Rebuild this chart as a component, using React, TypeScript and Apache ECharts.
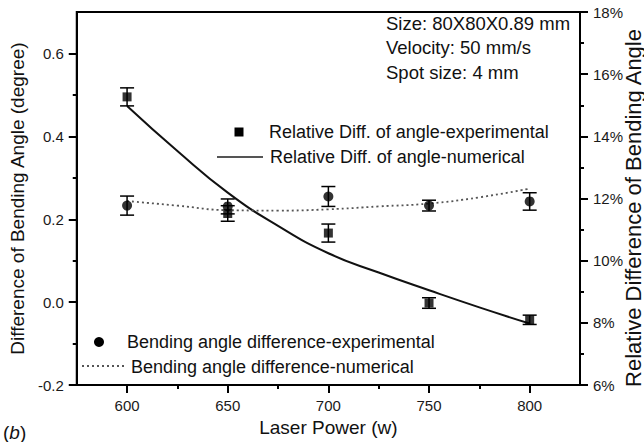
import React, { useEffect, useRef } from 'react';
import * as echarts from 'echarts';

const laserPower = [600, 650, 700, 750, 800];
const angleDiffExp = [0.233, 0.231, 0.255, 0.233, 0.243];
const angleDiffExpErr = [0.023, 0.018, 0.024, 0.013, 0.021];
const relDiffExp = [15.27, 11.52, 10.89, 8.64, 8.1];
const relDiffExpErr = [0.29, 0.25, 0.29, 0.17, 0.15];
const numPower = [600, 625, 650, 675, 700, 725, 750, 775, 800];
const angleDiffNum = [0.244, 0.233, 0.222, 0.221, 0.224, 0.231, 0.238, 0.253, 0.274];
const relDiffNum = [14.98, 13.53, 12.19, 11.12, 10.24, 9.62, 9.05, 8.5, 7.98];
const xMajorTicks = [600, 650, 700, 750, 800];
const xMinorTicks = [625, 675, 725, 775];
const leftMajorTicks = [-0.2, 0, 0.2, 0.4, 0.6];
const leftMinorTicks = [-0.1, 0.1, 0.3, 0.5];
const annotationLines = ['Size: 80X80X0.89 mm', 'Velocity: 50 mm/s', 'Spot size: 4 mm'];
const rightAxisTitle = 'Relative Difference of Bending Angle';

const FONT = '"Liberation Sans", Arial, sans-serif';
const TEXT_SIZE = 19;
const LEGEND_SIZE = 18;

function errorBars(name: string, values: number[], errs: number[], yAxisIndex: number) {
  return {
    type: 'custom',
    name,
    xAxisIndex: 0,
    yAxisIndex,
    data: laserPower.map((x, i) => [x, values[i] - errs[i], values[i] + errs[i]]),
    encode: { x: 0, y: [1, 2] },
    z: 3,
    silent: true,
    renderItem: (params: any, api: any) => {
      const x = api.value(0);
      const lo = api.coord([x, api.value(1)]);
      const hi = api.coord([x, api.value(2)]);
      const hw = 7;
      const style = { stroke: '#000', lineWidth: 1.5, fill: null };
      return {
        type: 'group',
        children: [
          { type: 'line', shape: { x1: lo[0], y1: lo[1], x2: hi[0], y2: hi[1] }, style },
          { type: 'line', shape: { x1: lo[0] - hw, y1: lo[1], x2: lo[0] + hw, y2: lo[1] }, style },
          { type: 'line', shape: { x1: hi[0] - hw, y1: hi[1], x2: hi[0] + hw, y2: hi[1] }, style },
        ],
      };
    },
  };
}

export default function App() {
  const ref = useRef<HTMLDivElement>(null);
  useEffect(() => {
    if (!ref.current) return;
    const chart = echarts.init(ref.current, null, { renderer: 'svg' });
    const axisLine = { show: true, onZero: false, lineStyle: { color: '#000', width: 2 } };
    const labelStyle = { color: '#1a1a1a', fontSize: 15, fontFamily: FONT };
    const nameStyle = { color: '#111', fontSize: TEXT_SIZE, fontFamily: FONT };
    const tickStyle = { color: '#000', width: 2 };
    const option: any = {
      animation: false,
      backgroundColor: '#fff',
      grid: {
        left: 74,
        right: 64,
        top: 12,
        bottom: 52,
        show: true,
        borderColor: '#000',
        borderWidth: 2,
        backgroundColor: 'transparent',
      },
      xAxis: [
        {
          type: 'value',
          position: 'bottom',
          min: 575,
          max: 825,
          interval: 25,
          name: 'Laser Power (w)',
          nameLocation: 'middle',
          nameGap: 30,
          nameTextStyle: nameStyle,
          axisLine,
          axisTick: { show: true, customValues: xMajorTicks, length: 8, lineStyle: tickStyle },
          axisLabel: { customValues: xMajorTicks, margin: 13, ...labelStyle },
          splitLine: { show: false },
        },
        {
          type: 'value',
          position: 'bottom',
          min: 575,
          max: 825,
          interval: 25,
          axisLine: { show: false, onZero: false },
          axisTick: { show: true, customValues: xMinorTicks, length: 4, lineStyle: tickStyle },
          axisLabel: { show: false },
          splitLine: { show: false },
        },
      ],
      yAxis: [
        {
          type: 'value',
          position: 'left',
          min: -0.2,
          max: 0.7,
          interval: 0.1,
          name: 'Difference of Bending Angle (degree)',
          nameLocation: 'middle',
          nameGap: 42,
          nameTextStyle: nameStyle,
          axisLine,
          axisTick: { show: true, customValues: leftMajorTicks, length: 8, lineStyle: tickStyle },
          axisLabel: {
            customValues: leftMajorTicks,
            margin: 13,
            formatter: (v: number) => v.toFixed(1),
            ...labelStyle,
          },
          splitLine: { show: false },
        },
        {
          type: 'value',
          position: 'right',
          min: 6,
          max: 18,
          interval: 2,
          axisLine,
          axisTick: { show: true, length: 8, lineStyle: tickStyle },
          minorTick: { show: true, splitNumber: 2, length: 4, lineStyle: tickStyle },
          axisLabel: { margin: 13, formatter: '{value}%', ...labelStyle },
          splitLine: { show: false },
        },
        {
          type: 'value',
          position: 'left',
          min: -0.2,
          max: 0.7,
          interval: 0.1,
          axisLine: { show: false, onZero: false },
          axisTick: { show: true, customValues: leftMinorTicks, length: 4, lineStyle: tickStyle },
          axisLabel: { show: false },
          splitLine: { show: false },
        },
      ],
      series: [
        {
          type: 'line',
          name: 'Relative Diff. of angle-numerical',
          xAxisIndex: 0,
          yAxisIndex: 1,
          data: numPower.map((x, i) => [x, relDiffNum[i]]),
          smooth: true,
          showSymbol: false,
          lineStyle: { color: '#111', width: 2 },
          z: 2,
        },
        {
          type: 'line',
          name: 'Bending angle difference-numerical',
          xAxisIndex: 0,
          yAxisIndex: 0,
          data: numPower.map((x, i) => [x, angleDiffNum[i]]),
          smooth: true,
          showSymbol: false,
          lineStyle: { color: '#555', width: 1.8, type: [2, 3] },
          z: 2,
        },
        errorBars('Relative Diff. error', relDiffExp, relDiffExpErr, 1),
        errorBars('Bending angle error', angleDiffExp, angleDiffExpErr, 0),
        {
          type: 'scatter',
          name: 'Relative Diff. of angle-experimental',
          xAxisIndex: 0,
          yAxisIndex: 1,
          data: laserPower.map((x, i) => [x, relDiffExp[i]]),
          symbol: 'rect',
          symbolSize: 9,
          itemStyle: { color: '#000' },
          z: 4,
        },
        {
          type: 'scatter',
          name: 'Bending angle difference-experimental',
          xAxisIndex: 0,
          yAxisIndex: 0,
          data: laserPower.map((x, i) => [x, angleDiffExp[i]]),
          symbol: 'circle',
          symbolSize: 10,
          itemStyle: { color: '#000' },
          z: 4,
        },
      ],
      graphic: [
        ...annotationLines.map((t, i) => ({
          type: 'text',
          x: 386,
          y: 23 + i * 24.5,
          style: { text: t, fill: '#111', fontSize: 18.5, fontFamily: FONT, verticalAlign: 'middle' },
        })),
        {
          type: 'text',
          x: 633,
          y: 208,
          rotation: Math.PI / 2,
          style: {
            text: rightAxisTitle,
            fill: '#111',
            fontSize: 22,
            fontFamily: FONT,
            align: 'center',
            verticalAlign: 'middle',
          },
        },
        { type: 'rect', shape: { x: 234.5, y: 127.5, width: 9, height: 9 }, style: { fill: '#000' } },
        {
          type: 'text', x: 269, y: 132,
          style: { text: 'Relative Diff. of angle-experimental', fill: '#111', fontSize: LEGEND_SIZE, fontFamily: FONT, verticalAlign: 'middle' },
        },
        { type: 'line', shape: { x1: 217, y1: 157, x2: 263, y2: 157 }, style: { stroke: '#555', lineWidth: 1.8 } },
        {
          type: 'text', x: 270, y: 157,
          style: { text: 'Relative Diff. of angle-numerical', fill: '#111', fontSize: LEGEND_SIZE, fontFamily: FONT, verticalAlign: 'middle' },
        },
        { type: 'circle', shape: { cx: 99, cy: 342, r: 5 }, style: { fill: '#000' } },
        {
          type: 'text', x: 127, y: 342,
          style: { text: 'Bending angle difference-experimental', fill: '#111', fontSize: LEGEND_SIZE, fontFamily: FONT, verticalAlign: 'middle' },
        },
        { type: 'line', shape: { x1: 82, y1: 366, x2: 125, y2: 366 }, style: { stroke: '#555', lineWidth: 1.8, lineDash: [2, 3] } },
        {
          type: 'text', x: 131, y: 367,
          style: { text: 'Bending angle difference-numerical', fill: '#111', fontSize: LEGEND_SIZE, fontFamily: FONT, verticalAlign: 'middle' },
        },
        {
          type: 'text', x: 3, y: 432,
          style: {
            text: '{n|(}{i|b}{n|)}',
            verticalAlign: 'middle',
            rich: {
              n: { fontSize: TEXT_SIZE, fontFamily: FONT, fill: '#111' },
              i: { fontSize: TEXT_SIZE, fontFamily: FONT, fontStyle: 'italic', fill: '#111' },
            },
          },
        },
      ],
    };
    chart.setOption(option);
    return () => chart.dispose();
  }, []);
  return <div ref={ref} style={{ width: 644, height: 442, position: 'absolute', left: 0, top: 0 }} />;
}
